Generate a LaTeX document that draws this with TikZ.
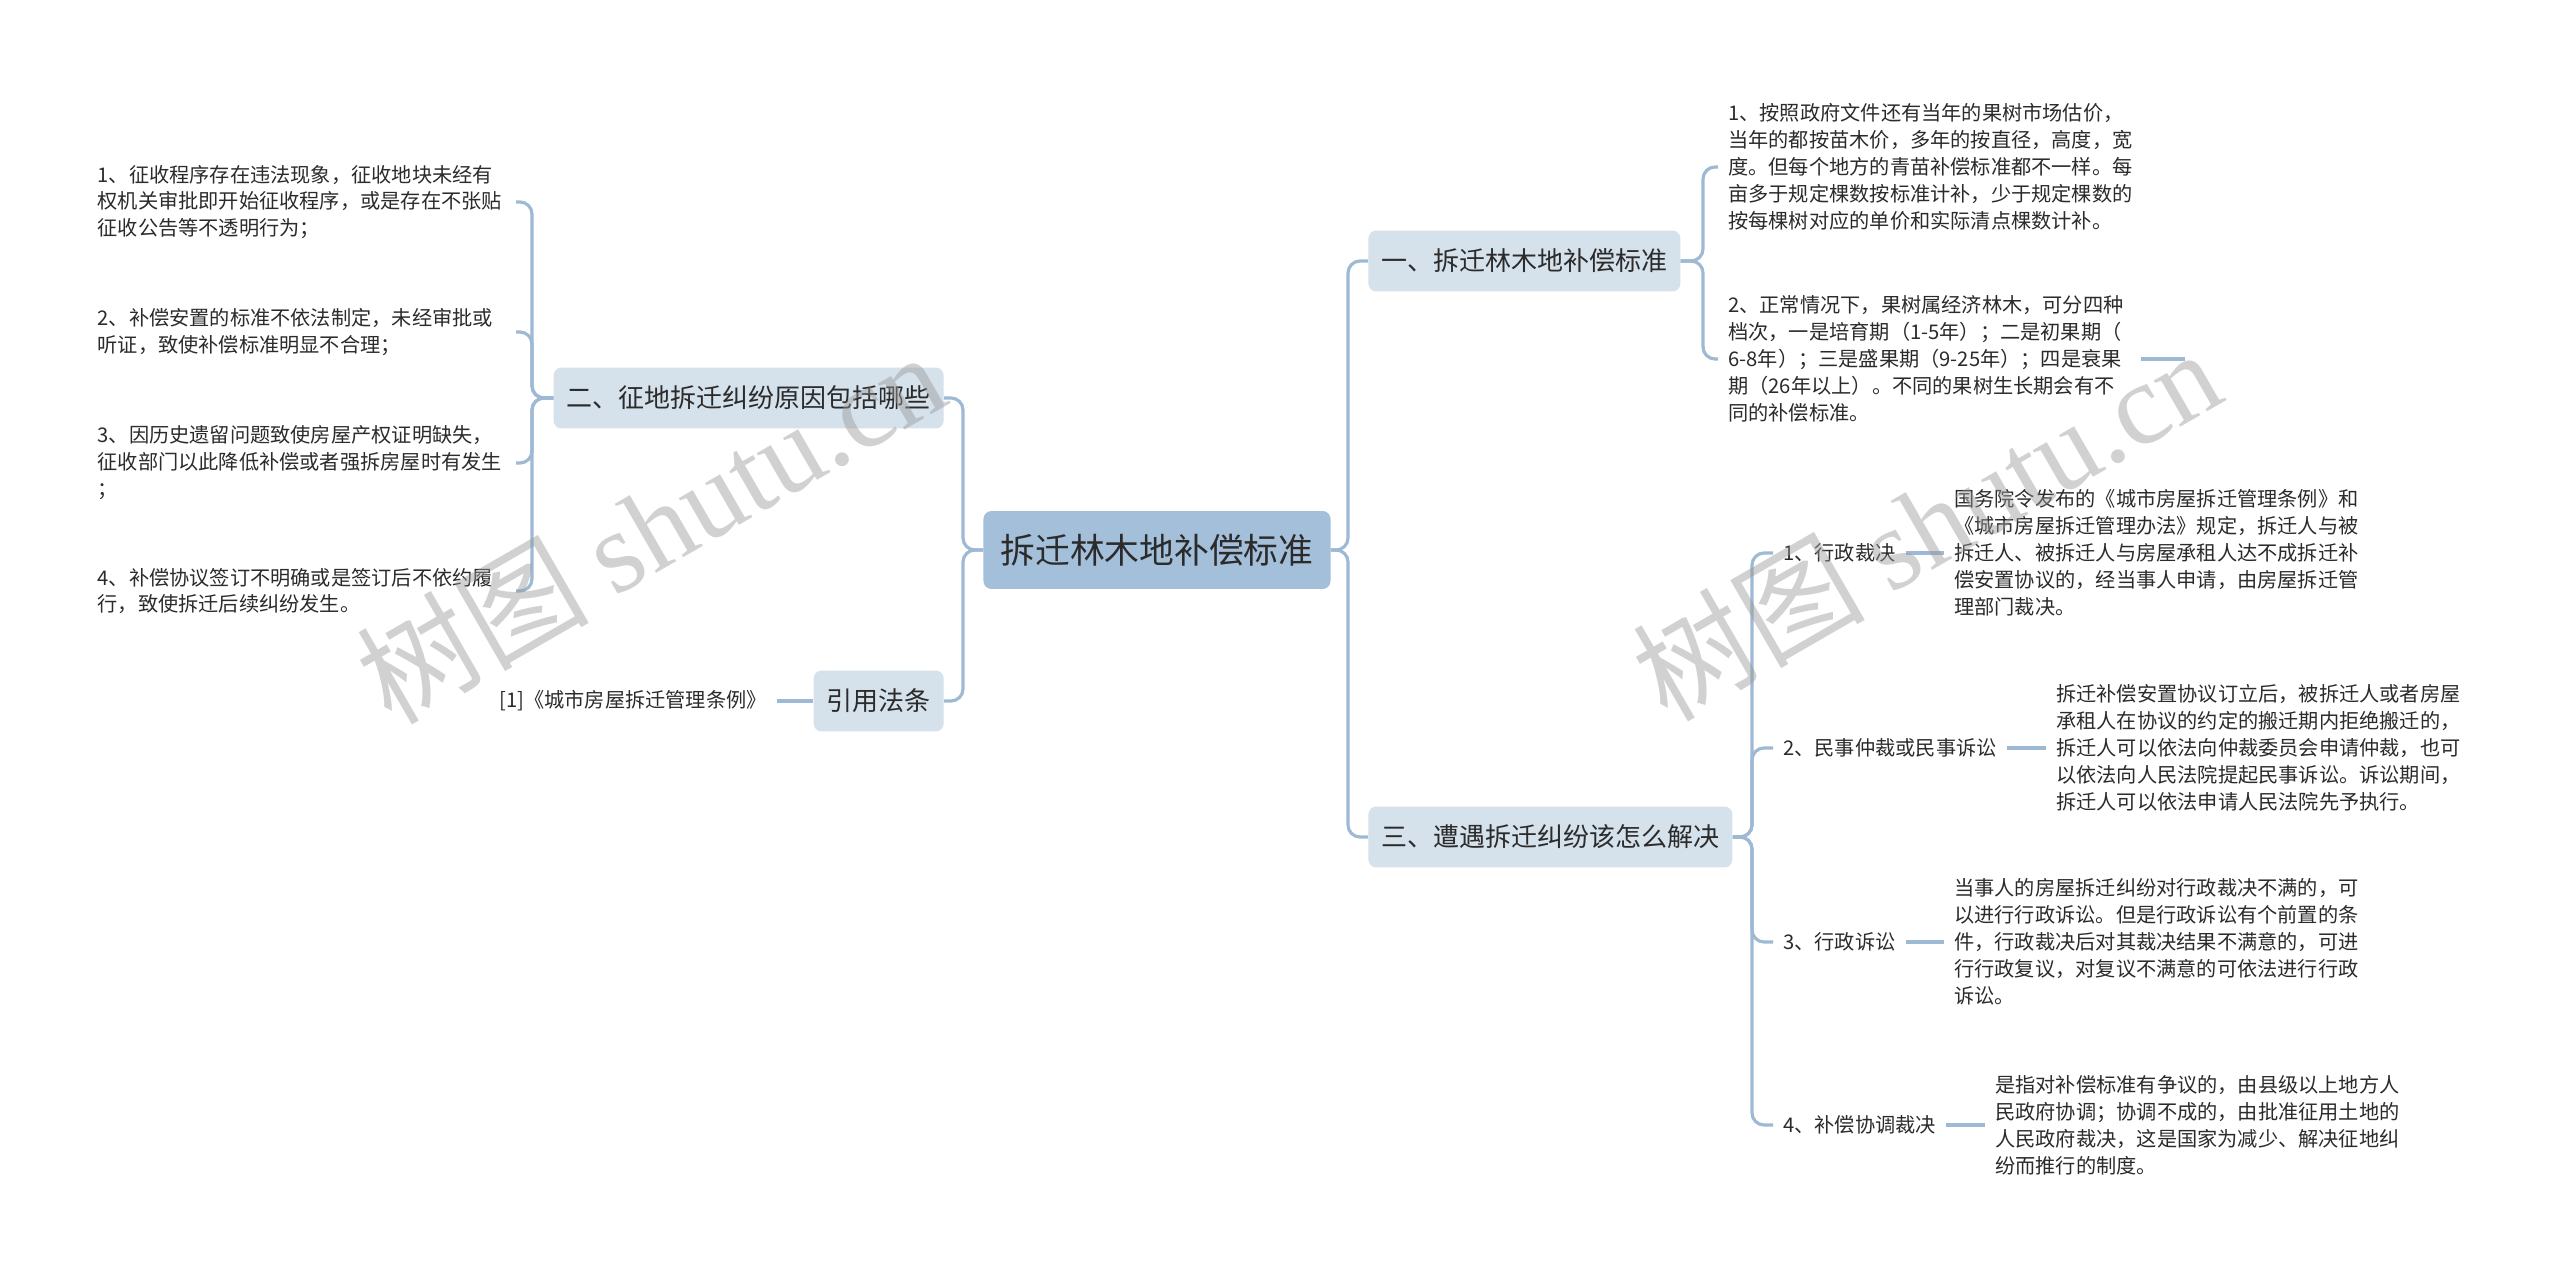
\documentclass[tikz,border=0pt]{standalone}
\usepackage{fontspec}
\setmainfont{Noto Sans CJK SC}
\newfontfamily\wmserif{Liberation Serif}
\usepackage{tikz}
\usetikzlibrary{positioning}
\definecolor{linkblue}{HTML}{9DB9D3}
\definecolor{rootfill}{HTML}{A3BFDA}
\definecolor{topicfill}{HTML}{D5E1EB}
\definecolor{ink}{HTML}{2B2B2B}

\begin{document}
\begin{tikzpicture}[
    x=0.02cm, y=-0.02cm,
    root/.style={fill=rootfill, text=ink, rounded corners=0.16cm,
                 minimum height=1.56cm, inner xsep=0.34cm, font=\fontsize{19.8}{24}\selectfont},
    topic/.style={fill=topicfill, text=ink, rounded corners=0.16cm,
                  minimum height=1.22cm, inner xsep=0.26cm, font=\fontsize{14.8}{18}\selectfont},
    leaf/.style={text=ink, align=left, inner sep=0.2cm, font=\fontsize{11.5}{15.3}\selectfont},
    link/.style={draw=linkblue, line width=1.8pt, rounded corners=0.24cm},
    wmark/.style={text=black!40, text opacity=0.45, rotate=30, font=\fontsize{66}{66}\selectfont}
  ]
    \fill[white] (0,0) rectangle (2560,1273);
    \useasboundingbox (0,0) rectangle (2560,1273);

    \node[root] (root) at (1157,550) {拆迁林木地补偿标准};
    \node[topic, anchor=east] (cause) at (944,398) {二、征地拆迁纠纷原因包括哪些};
    \node[topic, anchor=east] (cite)  at (944,701) {引用法条};
    \node[topic, anchor=west] (std)   at (1368,261) {一、拆迁林木地补偿标准};
    \node[topic, anchor=west] (solve) at (1368,837) {三、遭遇拆迁纠纷该怎么解决};

    \node[leaf, text width=8.16cm, anchor=east] (c1) at (516,202)
      {1、征收程序存在违法现象，征收地块未经有\\权机关审批即开始征收程序，或是存在不张贴\\征收公告等不透明行为；};
    \node[leaf, text width=8.16cm, anchor=east] (c2) at (516,332)
      {2、补偿安置的标准不依法制定，未经审批或\\听证，致使补偿标准明显不合理；};
    \node[leaf, text width=8.16cm, anchor=east] (c3) at (516,463)
      {3、因历史遗留问题致使房屋产权证明缺失，\\征收部门以此降低补偿或者强拆房屋时有发生\\；};
    \node[leaf, text width=8.16cm, anchor=east] (c4) at (516,591)
      {4、补偿协议签订不明确或是签订后不依约履\\行，致使拆迁后续纠纷发生。};
    \node[leaf, anchor=east] (law) at (777,701) {[1]《城市房屋拆迁管理条例》};

    \node[leaf, anchor=west] (s1) at (1718,167)
      {1、按照政府文件还有当年的果树市场估价，\\当年的都按苗木价，多年的按直径，高度，宽\\度。但每个地方的青苗补偿标准都不一样。每\\亩多于规定棵数按标准计补，少于规定棵数的\\按每棵树对应的单价和实际清点棵数计补。};
    \node[leaf, anchor=west] (s2) at (1718,359)
      {2、正常情况下，果树属经济林木，可分四种\\档次，一是培育期（1-5年）；二是初果期（\\6-8年）；三是盛果期（9-25年）；四是衰果\\期（26年以上）。不同的果树生长期会有不\\同的补偿标准。};
    \coordinate (s2end) at (2185,359);

    \node[leaf, anchor=west] (adj)   at (1773,553) {1、行政裁决};
    \node[leaf, anchor=west] (arb)   at (1773,748) {2、民事仲裁或民事诉讼};
    \node[leaf, anchor=west] (sue)   at (1773,942) {3、行政诉讼};
    \node[leaf, anchor=west] (coord) at (1773,1125) {4、补偿协调裁决};

    \node[leaf, anchor=west] (adjtxt) at (1944,553)
      {国务院令发布的《城市房屋拆迁管理条例》和\\《城市房屋拆迁管理办法》规定，拆迁人与被\\拆迁人、被拆迁人与房屋承租人达不成拆迁补\\偿安置协议的，经当事人申请，由房屋拆迁管\\理部门裁决。};
    \node[leaf, anchor=west] (arbtxt) at (2046,748)
      {拆迁补偿安置协议订立后，被拆迁人或者房屋\\承租人在协议的约定的搬迁期内拒绝搬迁的，\\拆迁人可以依法向仲裁委员会申请仲裁，也可\\以依法向人民法院提起民事诉讼。诉讼期间，\\拆迁人可以依法申请人民法院先予执行。};
    \node[leaf, anchor=west] (suetxt) at (1944,942)
      {当事人的房屋拆迁纠纷对行政裁决不满的，可\\以进行行政诉讼。但是行政诉讼有个前置的条\\件，行政裁决后对其裁决结果不满意的，可进\\行行政复议，对复议不满意的可依法进行行政\\诉讼。};
    \node[leaf, anchor=west] (coordtxt) at (1985,1125)
      {是指对补偿标准有争议的，由县级以上地方人\\民政府协调；协调不成的，由批准征用土地的\\人民政府裁决，这是国家为减少、解决征地纠\\纷而推行的制度。};

    \draw[link] (root.west) -- (963,550) |- (cause.east);
    \draw[link] (root.west) -- (963,550) |- (cite.east);
    \draw[link] (root.east) -- (1348,550) |- (std.west);
    \draw[link] (root.east) -- (1348,550) |- (solve.west);

    \draw[link] (cause.west) -- (532,398) |- (c1.east);
    \draw[link] (cause.west) -- (532,398) |- (c2.east);
    \draw[link] (cause.west) -- (532,398) |- (c3.east);
    \draw[link] (cause.west) -- (532,398) |- (c4.east);
    \draw[link] (cite.west) -- (law.east);

    \draw[link] (std.east) -- (1703,261) |- (s1.west);
    \draw[link] (std.east) -- (1703,261) |- (s2.west);
    \draw[link] ([xshift=0.14cm]s2.east) -- (s2end);

    \draw[link] (solve.east) -- (1752,837) |- (adj.west);
    \draw[link] (solve.east) -- (1752,837) |- (arb.west);
    \draw[link] (solve.east) -- (1752,837) |- (sue.west);
    \draw[link] (solve.east) -- (1752,837) |- (coord.west);
    \draw[link] (adj.east) -- (adjtxt.west);
    \draw[link] (arb.east) -- (arbtxt.west);
    \draw[link] (sue.east) -- (suetxt.west);
    \draw[link] (coord.east) -- (coordtxt.west);

    \node[wmark] (wm1) at (650,526) {树图 {\wmserif shutu.cn}};
    \node[wmark] (wm2) at (1926,523) {树图 {\wmserif shutu.cn}};
  \end{tikzpicture}
\end{document}
